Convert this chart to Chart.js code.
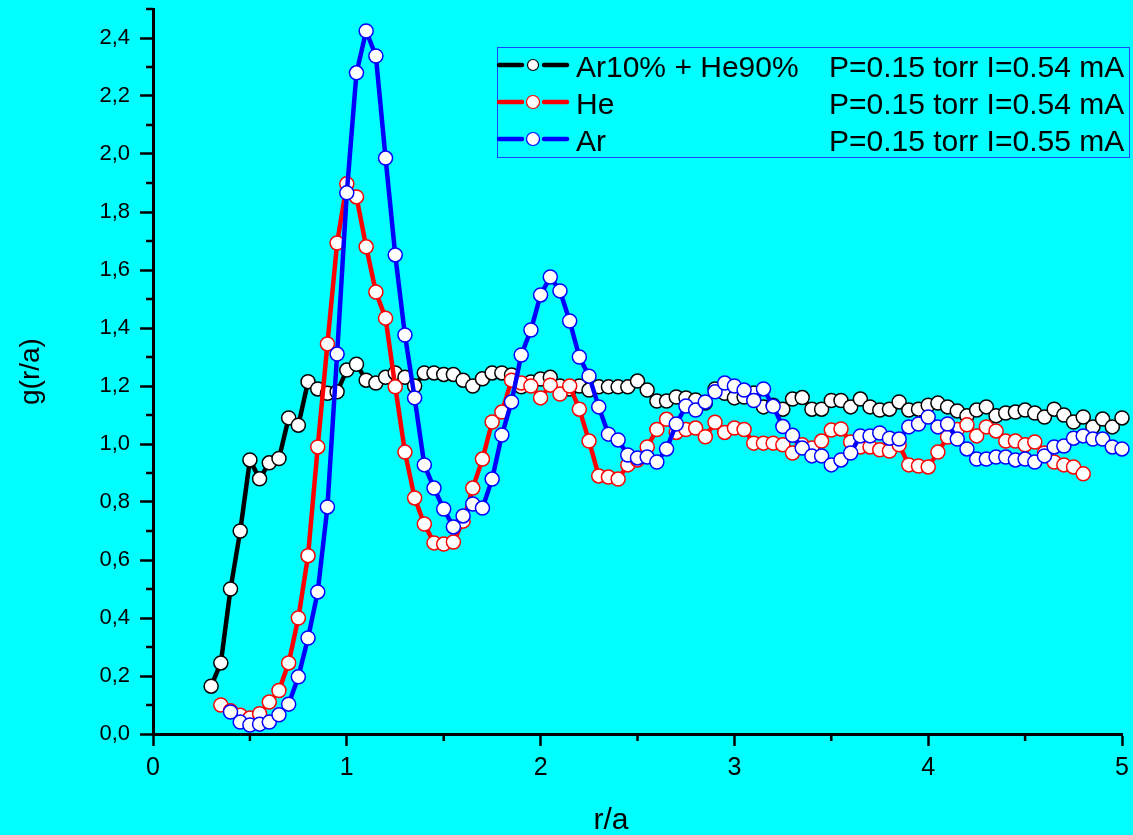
<!DOCTYPE html>
<html>
<head>
<meta charset="utf-8">
<script src="https://cdn.jsdelivr.net/npm/chart.js@4.4.1/dist/chart.umd.min.js"></script>
<style>
  html, body { margin: 0; padding: 0; background: #00ffff; }
  #wrap { width: 1133px; height: 835px; }
</style>
</head>
<body>
<div id="wrap"><canvas id="chart" width="1133" height="835"></canvas></div>
<script>
// r/a positions shared by all three runs (each run starts at a different index)
const rValues = [
  0.30, 0.35, 0.40, 0.45, 0.50, 0.55, 0.60, 0.65, 0.70, 0.75,
  0.80, 0.85, 0.90, 0.95, 1.00, 1.05, 1.10, 1.15, 1.20, 1.25,
  1.30, 1.35, 1.40, 1.45, 1.50, 1.55, 1.60, 1.65, 1.70, 1.75,
  1.80, 1.85, 1.90, 1.95, 2.00, 2.05, 2.10, 2.15, 2.20, 2.25,
  2.30, 2.35, 2.40, 2.45, 2.50, 2.55, 2.60, 2.65, 2.70, 2.75,
  2.80, 2.85, 2.90, 2.95, 3.00, 3.05, 3.10, 3.15, 3.20, 3.25,
  3.30, 3.35, 3.40, 3.45, 3.50, 3.55, 3.60, 3.65, 3.70, 3.75,
  3.80, 3.85, 3.90, 3.95, 4.00, 4.05, 4.10, 4.15, 4.20, 4.25,
  4.30, 4.35, 4.40, 4.45, 4.50, 4.55, 4.60, 4.65, 4.70, 4.75,
  4.80, 4.85, 4.90, 4.95, 5.00
];

// g(r/a), Ar10% + He90%, from r/a = 0.30
const mixG = [
  0.165, 0.245, 0.50, 0.70, 0.945, 0.88, 0.935, 0.95, 1.09, 1.065,
  1.215, 1.19, 1.175, 1.18, 1.255, 1.275, 1.22, 1.21, 1.23, 1.245,
  1.23, 1.20, 1.245, 1.245, 1.24, 1.24, 1.22, 1.20, 1.225, 1.245,
  1.245, 1.238, 1.197, 1.214, 1.224, 1.23, 1.20, 1.19, 1.20, 1.186,
  1.197, 1.197, 1.197, 1.197, 1.217, 1.186, 1.148, 1.148, 1.162, 1.159,
  1.152, 1.141, 1.19, 1.175, 1.159, 1.162, 1.176, 1.128, 1.134, 1.12,
  1.155, 1.16, 1.12, 1.12, 1.15, 1.15, 1.128, 1.155, 1.128, 1.117,
  1.12, 1.145, 1.117, 1.12, 1.134, 1.141, 1.128, 1.114, 1.097, 1.117,
  1.128, 1.097, 1.107, 1.11, 1.117, 1.107, 1.093, 1.12, 1.10, 1.076,
  1.093, 1.059, 1.086, 1.059, 1.09
];

// g(r/a), He, from r/a = 0.35
const heG = [
  0.10, 0.08, 0.065, 0.055, 0.07, 0.11, 0.15, 0.245, 0.40, 0.615,
  0.99, 1.345, 1.693, 1.897, 1.852, 1.68, 1.524, 1.434, 1.197, 0.972,
  0.814, 0.724, 0.659, 0.655, 0.662, 0.734, 0.848, 0.948, 1.076, 1.11,
  1.22, 1.21, 1.20, 1.159, 1.203, 1.172, 1.20, 1.12, 1.01, 0.89,
  0.886, 0.879, 0.928, 0.945, 0.99, 1.05, 1.085, 1.04, 1.05, 1.055,
  1.025, 1.075, 1.04, 1.055, 1.05, 1.003, 1.003, 1.003, 0.997, 0.969,
  0.997, 0.986, 1.01, 1.048, 1.052, 1.007, 0.99, 0.99, 0.98, 0.976,
  0.997, 0.928, 0.924, 0.921, 0.972, 1.024, 1.05, 1.066, 1.028, 1.059,
  1.045, 1.01, 1.01, 0.997, 1.007, 0.969, 0.938, 0.928, 0.921, 0.897
];

// g(r/a), Ar, from r/a = 0.40
const arG = [
  0.076, 0.041, 0.031, 0.034, 0.041, 0.066, 0.103, 0.197, 0.331, 0.49,
  0.783, 1.31, 1.866, 2.28, 2.424, 2.338, 1.986, 1.652, 1.376, 1.159,
  0.928, 0.848, 0.776, 0.714, 0.752, 0.793, 0.779, 0.879, 1.031, 1.145,
  1.307, 1.393, 1.514, 1.576, 1.528, 1.424, 1.30, 1.234, 1.128, 1.034,
  1.014, 0.962, 0.952, 0.955, 0.938, 0.983, 1.069, 1.131, 1.117, 1.145,
  1.18, 1.21, 1.20, 1.186, 1.15, 1.19, 1.13, 1.06, 1.03, 0.986,
  0.959, 0.959, 0.928, 0.945, 0.969, 1.028, 1.028, 1.038, 1.02, 1.017,
  1.059, 1.069, 1.093, 1.059, 1.069, 1.017, 0.983, 0.948, 0.948, 0.955,
  0.955, 0.945, 0.948, 0.938, 0.959, 0.99, 0.993, 1.02, 1.028, 1.017,
  1.017, 0.99, 0.983
];

const seriesNames = ["Ar10% + He90%", "He", "Ar"];
const seriesConditions = ["P=0.15 torr I=0.54 mA", "P=0.15 torr I=0.54 mA", "P=0.15 torr I=0.55 mA"];
const seriesColors = ["#000000", "#ff0000", "#0000ff"];

const xTicks = [0, 1, 2, 3, 4, 5];
const xMinorTicks = [0.5, 1.5, 2.5, 3.5, 4.5];
const yTicks = [0, 0.2, 0.4, 0.6, 0.8, 1.0, 1.2, 1.4, 1.6, 1.8, 2.0, 2.2, 2.4];
const yMinorTicks = [0.1, 0.3, 0.5, 0.7, 0.9, 1.1, 1.3, 1.5, 1.7, 1.9, 2.1, 2.3, 2.5];

const FONT = "'Liberation Sans', Arial, sans-serif";

function toPoints(start, values) {
  return values.map((g, i) => ({ x: rValues[start + i], y: g }));
}

function makeSet(idx, start, values, order) {
  return {
    label: seriesNames[idx],
    data: toPoints(start, values),
    showLine: true,
    borderColor: seriesColors[idx],
    borderWidth: 4.5,
    pointRadius: 7,
    pointBorderWidth: 1.5,
    pointBorderColor: seriesColors[idx],
    pointBackgroundColor: "#ffffff",
    tension: 0,
    clip: false,
    order: order
  };
}

const paperPlugin = {
  id: "paper",
  beforeDraw(chart) {
    const ctx = chart.ctx;
    ctx.save();
    ctx.fillStyle = "#00ffff";
    ctx.fillRect(0, 0, chart.width, chart.height);
    ctx.restore();
  },
  afterDraw(chart) {
    const ctx = chart.ctx;
    const xs = chart.scales.x;
    const ys = chart.scales.y;
    const area = chart.chartArea;
    ctx.save();
    // minor ticks
    ctx.strokeStyle = "#000";
    ctx.lineWidth = 2.5;
    ctx.beginPath();
    xMinorTicks.forEach(v => {
      const px = xs.getPixelForValue(v);
      ctx.moveTo(px, area.bottom);
      ctx.lineTo(px, area.bottom + 7);
    });
    yMinorTicks.forEach(v => {
      const py = ys.getPixelForValue(v);
      ctx.moveTo(area.left - 7, py);
      ctx.lineTo(area.left, py);
    });
    ctx.stroke();

    // axis titles
    ctx.fillStyle = "#000";
    ctx.font = "30px " + FONT;
    ctx.textAlign = "center";
    ctx.textBaseline = "alphabetic";
    ctx.fillText("r/a", 611, 829);
    ctx.save();
    ctx.translate(39, (area.top + area.bottom) / 2);
    ctx.rotate(-Math.PI / 2);
    ctx.font = "28px " + FONT;
    ctx.fillText("g(r/a)", 0, 0);
    ctx.restore();

    // legend box
    ctx.strokeStyle = "#2040ff";
    ctx.lineWidth = 1;
    ctx.strokeRect(497.5, 47.5, 632, 110);
    const rowsY = [65, 102, 139];
    const markR = [5.5, 6.5, 6.5];
    ctx.font = "30px " + FONT;
    ctx.textAlign = "left";
    seriesNames.forEach((name, i) => {
      const y = rowsY[i];
      ctx.strokeStyle = seriesColors[i];
      ctx.lineWidth = 4.5;
      ctx.lineCap = "round";
      ctx.beginPath();
      ctx.moveTo(499, y);
      ctx.lineTo(522, y);
      ctx.moveTo(544, y);
      ctx.lineTo(567, y);
      ctx.stroke();
      ctx.beginPath();
      ctx.arc(533, y, markR[i], 0, Math.PI * 2);
      ctx.fillStyle = "#ffffff";
      ctx.fill();
      ctx.lineWidth = 1.2;
      ctx.stroke();
      ctx.fillStyle = "#000";
      ctx.fillText(name, 576, y + 11.5);
      ctx.fillText(seriesConditions[i], 829, y + 11.5);
    });
    ctx.restore();
  }
};

const ctx = document.getElementById("chart").getContext("2d");
const chart = new Chart(ctx, {
  type: "scatter",
  data: {
    datasets: [
      makeSet(0, 0, mixG, 3),
      makeSet(1, 1, heG, 2),
      makeSet(2, 2, arG, 1)
    ]
  },
  options: {
    responsive: false,
    animation: false,
    devicePixelRatio: 1,
    layout: { padding: { top: 9, right: 11, left: 0, bottom: 0 } },
    plugins: {
      legend: { display: false },
      tooltip: { enabled: false }
    },
    scales: {
      x: {
        type: "linear",
        min: 0,
        max: 5,
        border: { display: true, color: "#000", width: 3 },
        grid: { drawOnChartArea: false, drawTicks: true, tickLength: 12, tickWidth: 2.5, tickColor: "#000" },
        ticks: {
          color: "#000",
          font: { family: FONT, size: 25 },
          padding: 7,
          maxRotation: 0,
          autoSkip: false,
          callback: v => String(v)
        },
        afterBuildTicks: s => { s.ticks = xTicks.map(v => ({ value: v })); },
        afterFit: s => { s.height = 101; s.paddingLeft = 0; s.paddingRight = 0; }
      },
      y: {
        type: "linear",
        min: 0,
        max: 2.5,
        border: { display: true, color: "#000", width: 3 },
        grid: { drawOnChartArea: false, drawTicks: true, tickLength: 13, tickWidth: 2.5, tickColor: "#000" },
        ticks: {
          color: "#000",
          font: { family: FONT, size: 22 },
          padding: 10,
          autoSkip: false,
          callback: v => v.toFixed(1).replace(".", ",")
        },
        afterBuildTicks: s => { s.ticks = yTicks.map(v => ({ value: v })); },
        afterFit: s => { s.width = 153; s.paddingTop = 0; s.paddingBottom = 0; }
      }
    }
  },
  plugins: [paperPlugin]
});
</script>
</body>
</html>
